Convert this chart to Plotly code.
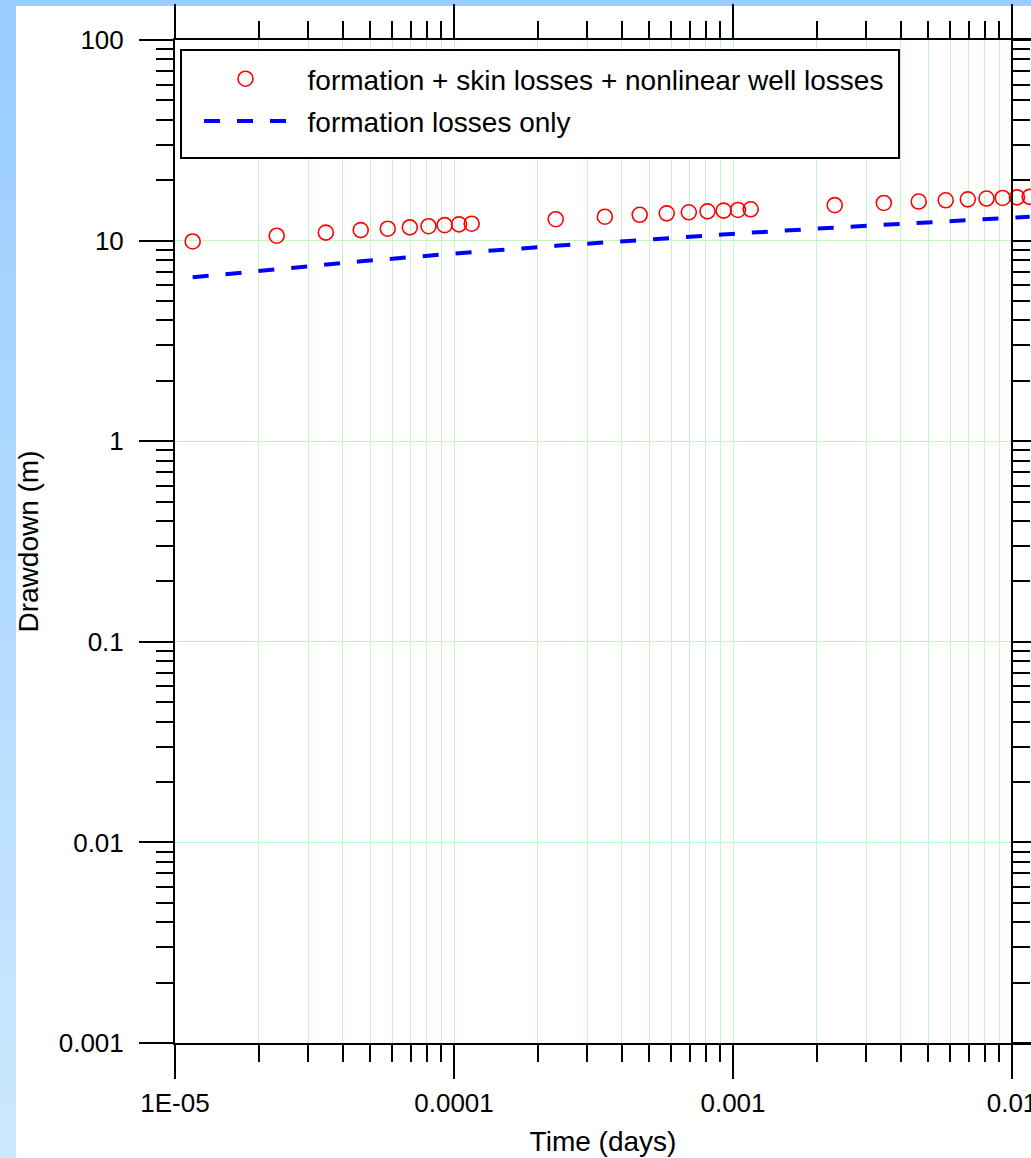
import plotly.graph_objects as go

# Elapsed time of each reading (days): 1-10 s, 20-100 s, 200-1000 s
time_days = [
    1.157e-05, 2.315e-05, 3.472e-05, 4.630e-05, 5.787e-05,
    6.944e-05, 8.102e-05, 9.259e-05, 1.042e-04, 1.157e-04,
    2.315e-04, 3.472e-04, 4.630e-04, 5.787e-04, 6.944e-04,
    8.102e-04, 9.259e-04, 1.042e-03, 1.157e-03,
    2.315e-03, 3.472e-03, 4.630e-03, 5.787e-03, 6.944e-03,
    8.102e-03, 9.259e-03, 1.042e-02, 1.157e-02,
]

# Drawdown including skin and nonlinear well losses (m)
total_drawdown = [
    9.90, 10.58, 10.96, 11.28, 11.46, 11.64, 11.80, 11.94, 12.05, 12.14,
    12.78, 13.16, 13.45, 13.67, 13.84, 13.99, 14.11, 14.22, 14.32,
    15.02, 15.40, 15.66, 15.88, 16.06, 16.20, 16.32, 16.43, 16.52,
]

# Drawdown from formation losses alone (m)
formation_drawdown = [
    6.56, 7.22, 7.61, 7.88, 8.09, 8.27, 8.41, 8.54, 8.65, 8.76,
    9.42, 9.81, 10.08, 10.29, 10.46, 10.61, 10.74, 10.85, 10.95,
    11.61, 11.99, 12.27, 12.48, 12.66, 12.81, 12.93, 13.04, 13.15,
]

series_names = [
    "formation + skin losses + nonlinear well losses",
    "formation losses only",
]

x_tick_vals = [1e-05, 1e-04, 1e-03, 1e-02]
x_tick_text = ["1E-05", "0.0001", "0.001", "0.01"]
y_tick_vals = [0.001, 0.01, 0.1, 1, 10, 100]
y_tick_text = ["0.001", "0.01", "0.1", "1", "10", "100"]

W, H = 1031, 1158
L, R, T, B = 175, 0, 40, 115
PW, PH = W - L - R, H - T - B
PX_PER_DECADE = 279.0
x_log_range = [-5, -5 + PW / PX_PER_DECADE]
y_log_range = [-3, 2]

FONT = "Arial, Liberation Sans, sans-serif"
GRID = "#C4F5C4"
NBSP = "\u00a0"


def px_x(p):
    return (p - L) / PW


def px_y(p):
    return 1 - (p - T) / PH


def minor_vals(lo, hi):
    return [m * 10.0 ** e for e in range(lo, hi) for m in range(2, 10)]


fig = go.Figure()

fig.add_trace(go.Scatter(
    x=time_days, y=total_drawdown, mode="markers",
    name=NBSP * 2 + series_names[0],
    legendgroup="a",
    marker=dict(symbol="circle-open", size=15, color="#FF0000",
                line=dict(width=1.6, color="#FF0000")),
    cliponaxis=False,
))
fig.add_trace(go.Scatter(
    x=time_days, y=formation_drawdown, mode="lines",
    name=NBSP * 2 + series_names[1],
    legendgroup="b",
    line=dict(color="#0000FF", width=4, dash="16px,17px"),
))
# carrier trace for the right-hand drawdown axis
fig.add_trace(go.Scatter(
    x=time_days, y=formation_drawdown, yaxis="y2", mode="lines",
    line=dict(width=0), showlegend=False, hoverinfo="skip", opacity=0,
))

axis_common = dict(
    type="log", showline=True, linecolor="black", linewidth=2,
    ticks="outside", ticklen=34, tickwidth=2, tickcolor="black",
    tickfont=dict(family=FONT, size=26, color="black"),
    zeroline=False, automargin=False, ticklabeloverflow="allow",
)

fig.update_layout(
    template="none",
    width=W, height=H,
    margin=dict(l=L, r=R, t=T, b=B, pad=0),
    paper_bgcolor="white", plot_bgcolor="white",
    font=dict(family=FONT, color="black"),
    showlegend=True,
    xaxis=dict(
        **axis_common,
        range=x_log_range, mirror="ticks",
        tickmode="array", tickvals=x_tick_vals, ticktext=x_tick_text,
        ticklabelstandoff=2,
        showgrid=True, gridcolor=GRID, gridwidth=1,
        minor=dict(tickmode="array", tickvals=minor_vals(-5, -1),
                   ticks="outside", ticklen=17, tickwidth=2,
                   tickcolor="black", showgrid=True, gridcolor=GRID,
                   gridwidth=1),
        title=dict(text="Time (days)", font=dict(family=FONT, size=28,
                                                  color="black"),
                   standoff=14),
    ),
    yaxis=dict(
        **axis_common,
        range=y_log_range, mirror=False,
        tickmode="array", tickvals=y_tick_vals, ticktext=y_tick_text,
        ticklabelstandoff=10,
        showgrid=True, gridcolor=GRID, gridwidth=1,
        minor=dict(tickmode="array", tickvals=minor_vals(-3, 2),
                   ticks="outside", ticklen=17, tickwidth=2,
                   tickcolor="black", showgrid=False),
        title=dict(text="Drawdown (m)", font=dict(family=FONT, size=28,
                                                   color="black"),
                   standoff=12),
    ),
    yaxis2=dict(
        type="log", range=y_log_range, overlaying="y", anchor="free",
        side="right", position=px_x(1012), automargin=False,
        showline=True, linecolor="black", linewidth=2,
        ticks="outside", ticklen=34, tickwidth=2, tickcolor="black",
        tickmode="array", tickvals=y_tick_vals, showticklabels=False,
        showgrid=False, zeroline=False,
        minor=dict(tickmode="array", tickvals=minor_vals(-3, 2),
                   ticks="outside", ticklen=17, tickwidth=2,
                   tickcolor="black", showgrid=False),
    ),
    legend=dict(
        x=px_x(199), y=px_y(54), xanchor="left", yanchor="top",
        bgcolor="rgba(0,0,0,0)", borderwidth=0,
        font=dict(family=FONT, size=28, color="black"),
        itemwidth=83, traceorder="grouped", tracegroupgap=3,
    ),
)

shapes = []
# page backdrop: pale blue band across the top, graded band down the left
shapes.append(dict(type="rect", xref="paper", yref="paper",
                   x0=px_x(0), x1=px_x(W), y0=px_y(0), y1=px_y(6),
                   fillcolor="#99CCFF", line=dict(width=0), layer="below"))
n_bands = 58
top_rgb, bot_rgb = (153, 204, 255), (203, 232, 255)
for i in range(n_bands):
    f = i / (n_bands - 1)
    c = tuple(round(a + (b - a) * f) for a, b in zip(top_rgb, bot_rgb))
    y0 = i * H / n_bands
    y1 = (i + 1) * H / n_bands + 1
    shapes.append(dict(type="rect", xref="paper", yref="paper",
                       x0=px_x(0), x1=px_x(16), y0=px_y(y0), y1=px_y(y1),
                       fillcolor="rgb(%d,%d,%d)" % c, line=dict(width=0),
                       layer="below"))
# legend frame
shapes.append(dict(type="rect", xref="paper", yref="paper",
                   x0=px_x(181), x1=px_x(899), y0=px_y(50), y1=px_y(158),
                   fillcolor="white", line=dict(color="black", width=2),
                   layer="above"))
fig.update_layout(shapes=shapes)

fig.write_html("out.html")
